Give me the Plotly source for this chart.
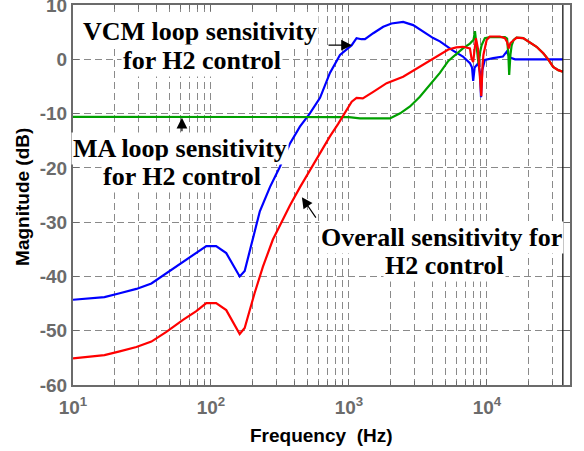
import numpy as np
import plotly.graph_objects as go

# Frequency responses (Hz, dB)
freq_vcm = [10, 16.9, 21.8, 28.8, 37, 47.5, 62.7, 78.3, 92.5, 109, 129, 161.5, 175.5,
            192, 207, 226, 268, 316, 374, 441, 521, 617, 728, 861, 1047, 1135, 1232,
            1306, 1500, 1772, 2035, 2470, 2920, 3450, 4080, 4560, 5250, 5680, 6700,
            7530, 7800, 7950, 8150, 8320, 8650, 8900, 9060, 9250, 9660, 11100, 13050,
            13900, 14680, 16000, 20000, 25000, 30000, 35500]
mag_vcm = [-44.3, -43.8, -43.1, -42.3, -41.3, -39.4, -37.3, -35.7, -34.4, -34.4, -35.7,
           -40.0, -39.0, -35.1, -32.0, -28.0, -23.5, -19.8, -15.5, -12.4, -9.95, -7.1,
           -2.5, 0.8, 2.6, 3.9, 3.7, 3.7, 4.8, 6.0, 6.6, 6.9, 6.3, 5.1, 3.9, 3.3, 2.1,
           1.6, 0.5, -0.7, -1.5, -4.0, -1.5, -1.2, -0.7, -2.5, -7.0, -2.0, -0.1, 0.2,
           0.5, 1.4, 0.3, 0.0, 0.0, 0.0, 0.0, 0.0]

freq_ma = [10, 100, 500, 1000, 1200, 1980, 2350, 2770, 3265, 3860, 4560, 5250, 5680,
           6700, 7530, 8000, 8190, 8400, 8700, 8950, 9150, 9660, 10500, 13500, 14000,
           14300, 14500, 14800, 15100, 15600, 16400, 18300, 20400, 22900, 25600, 27800,
           30200, 32900, 35500]
mag_ma = [-10.6, -10.6, -10.6, -10.65, -10.9, -10.9, -9.95, -8.7, -6.9, -4.6, -2.5,
          -0.3, 0.5, 2.0, 2.9, 3.6, 5.2, 2.6, -1.0, 1.5, 2.6, 3.9, 4.1, 4.1, 3.8, 0.8,
          -2.9, 0.8, 2.5, 3.55, 4.0, 3.9, 3.2, 2.3, 1.1, 0.0, -1.4, -2.0, -2.3]

freq_all = [10, 16.9, 21.8, 28.8, 37, 47.5, 62.7, 78.3, 92.5, 109, 129, 161.5, 175.5,
            207, 238, 268, 281, 316, 374, 441, 521, 600, 728, 835, 961, 1047, 1135, 1260,
            1500, 1876, 2470, 3265, 4310, 5250, 6000, 6700, 7530, 7730, 7950, 8150,
            8320, 8600, 8850, 9100, 9300, 9430, 9950, 10500, 12400, 13500, 14000,
            14400, 14800, 15100, 16400, 18300, 20400, 22900, 25600, 27800, 30200,
            32900, 35500]
mag_all = [-55.1, -54.5, -53.8, -53.0, -52.0, -50.2, -48.0, -46.4, -44.9, -44.9, -46.2,
           -50.6, -49.5, -43.1, -38.2, -34.6, -33.2, -30.6, -26.9, -23.6, -20.4, -17.9, -14.2,
           -11.9, -9.3, -7.8, -7.1, -7.2, -6.0, -4.4, -3.2, -1.4, 0.5, 1.8, 2.2, 2.3,
           2.0, 0.2, -0.5, 2.0, 3.9, 2.0, -2.0, -6.8, -1.0, 0.8, 3.55, 4.2, 4.2, 3.9,
           3.2, 2.0, 3.0, 3.2, 4.0, 3.9, 3.2, 2.3, 1.1, 0.0, -1.4, -2.0, -2.3]

x_major = [10, 100, 1000, 10000]
x_major_text = ["10<sup>1</sup>", "10<sup>2</sup>", "10<sup>3</sup>", "10<sup>4</sup>"]
x_minor = [m * d for d in (10, 100, 1000, 10000) for m in range(2, 10) if m * d <= 40000]
y_ticks = list(range(-60, 11, 10))
y_tick_text = [str(v) for v in y_ticks]

AXIS_GRAY = "#6b6b6b"
GRID_GRAY = "#8a8a8a"
SANS = "Liberation Sans, Arial, sans-serif"
SERIF = "Liberation Serif, Times New Roman, serif"

fig = go.Figure()
fig.add_trace(go.Scatter(x=freq_vcm, y=mag_vcm, mode="lines",
                         line=dict(color="#0000ff", width=2.2)))
fig.add_trace(go.Scatter(x=freq_ma, y=mag_ma, mode="lines",
                         line=dict(color="#00a000", width=2.2)))
fig.add_trace(go.Scatter(x=freq_all, y=mag_all, mode="lines",
                         line=dict(color="#ff0000", width=2.2)))
# closing line at the last analysed frequency
fig.add_trace(go.Scatter(x=[freq_all[-1], freq_all[-1]], y=[y_ticks[0], y_ticks[-1]],
                         mode="lines", line=dict(color="black", width=1.2)))

axis_common = dict(
    showline=True, linecolor=AXIS_GRAY, linewidth=2, mirror="ticks",
    ticks="inside", ticklen=6, tickcolor=AXIS_GRAY, tickwidth=1,
    showgrid=True, gridcolor=GRID_GRAY, gridwidth=1, griddash="7px,4px",
    zeroline=False, ticklabeloverflow="allow", automargin=False,
    tickfont=dict(family=SANS, size=19, color=AXIS_GRAY, weight="bold"),
)

fig.update_xaxes(type="log", range=[1, np.log10(40000)],
                 tickmode="array", tickvals=x_major, ticktext=x_major_text,
                 ticklabelstandoff=4,
                 minor=dict(tickmode="array", tickvals=x_minor, ticks="inside",
                            ticklen=4, tickcolor=AXIS_GRAY, showgrid=True,
                            gridcolor=GRID_GRAY, gridwidth=1, griddash="7px,4px"),
                 **axis_common)
fig.update_yaxes(range=[-60, 10], tickmode="array", tickvals=y_ticks,
                 ticktext=y_tick_text, **axis_common)

annotations = []

# axis titles
annotations.append(dict(text="<b>Frequency\u00a0 (Hz)</b>", xref="paper", yref="paper",
                        x=0.5, y=0, yshift=-50, xanchor="center", yanchor="middle",
                        showarrow=False, font=dict(family=SANS, size=19, color="black")))
annotations.append(dict(text="<b>Magnitude (dB)</b>", xref="paper", yref="paper",
                        x=0, y=0.495, xshift=-50, xanchor="center", yanchor="middle",
                        textangle=-90, showarrow=False,
                        font=dict(family=SANS, size=19, color="black")))

# curve labels (x in log10 Hz, y in dB)
label_font = dict(family=SERIF, size=26, color="black")
for text, lx, ly in [("VCM loop sensitivity", 1.920, 5.03),
                     ("for H2 control", 1.938, -0.31),
                     ("MA loop sensitivity", 1.772, -16.52),
                     ("for H2 control", 1.793, -21.68),
                     ("Overall sensitivity for", 3.670, -32.82),
                     ("H2 control", 3.696, -38.07)]:
    annotations.append(dict(text="<b>" + text + "</b>", x=lx, y=ly, xref="x", yref="y",
                            xanchor="center", yanchor="middle", showarrow=False,
                            bgcolor="white", borderpad=1, font=label_font))

# pointer arrows
for hx, hy, ax, ay in [(np.log10(1052), 2.6, -25, 0),
                       (np.log10(61.6), -10.75, 0, 15),
                       (np.log10(456), -25.4, 15, 22)]:
    annotations.append(dict(text="", x=hx, y=hy, xref="x", yref="y", ax=ax, ay=ay,
                            showarrow=True, arrowhead=2, arrowsize=1.8,
                            arrowwidth=1.2, arrowcolor="black", standoff=0))

fig.update_layout(width=584, height=451, margin=dict(l=73, r=14, t=5, b=66),
                  plot_bgcolor="white", paper_bgcolor="white", showlegend=False,
                  annotations=annotations)

fig.write_html("out.html")
